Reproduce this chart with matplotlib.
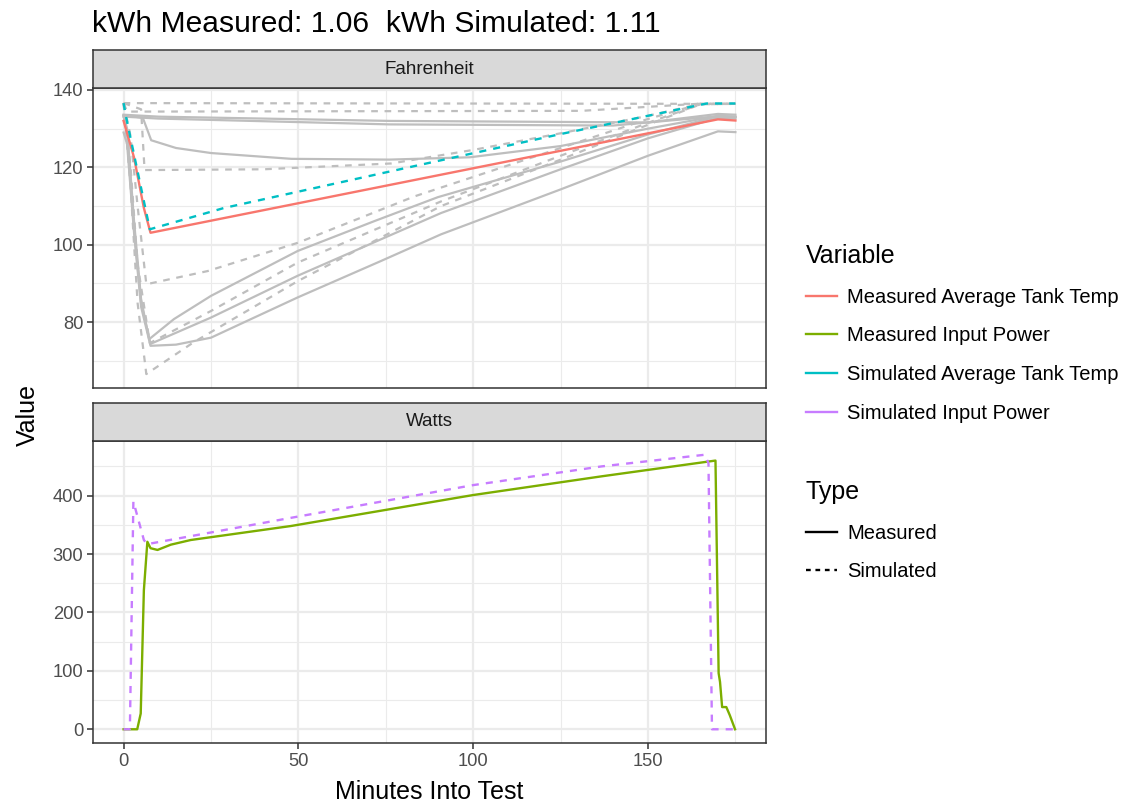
import matplotlib
matplotlib.use('Agg')
import matplotlib.pyplot as plt
from matplotlib.lines import Line2D
from matplotlib.ticker import MultipleLocator

plt.rcParams['font.family'] = ['Liberation Sans', 'DejaVu Sans']

# ── Data ───────────────────────────────────────────────────────────────────
TITLE = 'kWh Measured: 1.06  kWh Simulated: 1.11'
VAR_LABELS = ['Measured Average Tank Temp', 'Measured Input Power',
              'Simulated Average Tank Temp', 'Simulated Input Power']
TYPE_LABELS = ['Measured', 'Simulated']

# Fahrenheit panel: averages
avg_meas_t = [0, 3, 5.8, 7.7, 170, 175]
avg_meas_f = [132, 122.5, 109.5, 103.1, 132.4, 132.1]
avg_sim_t = [0, 0.6, 7.5, 28.7, 76.5, 125, 166.8, 175]
avg_sim_f = [136.6, 133.5, 104, 109.5, 119, 128.6, 136.5, 136.5]

# Fahrenheit panel: individual measured sensors (grey solid)
s1_t = [0, 10, 76, 150, 170, 175]
s1_f = [133.6, 133.1, 132, 131.6, 133.8, 133.6]
s2_t = [0, 10, 76, 140, 170, 175]
s2_f = [133.1, 132.6, 131.1, 130.8, 133.2, 133.0]
s3_t = [0, 5.5, 7.9, 15, 25, 48, 76, 99, 125, 150, 170, 175]
s3_f = [133.5, 132.8, 127, 125, 123.7, 122.2, 122, 122.6, 125.5, 130, 133.3, 133.1]
s4_t = [0, 1, 3, 5, 7.3, 14.4, 25, 49.8, 71.7, 89.9, 125, 150, 170, 175]
s4_f = [133.4, 130, 106, 86, 75.6, 80.8, 86.8, 98.4, 106.1, 112.3, 121.5, 128.5, 133.2, 133.0]
s5_t = [0, 1, 3, 5, 7.7, 25, 49.8, 90.8, 125, 150, 170, 175]
s5_f = [133.2, 129, 104, 85, 74.4, 81.2, 92, 108.2, 119.5, 127.5, 132.8, 132.6]
s6_t = [0, 1, 3, 5, 7.7, 15, 25, 35, 49.8, 73.6, 90.8, 125, 150, 170, 175]
s6_f = [129, 126, 103, 84, 73.9, 74.2, 76, 80.2, 86.4, 95.8, 102.7, 114.3, 123, 129.3, 129.1]

# Fahrenheit panel: individual simulated nodes (grey dashed)
d1_t = [0, 175]
d1_f = [136.6, 136.4]
d2_t = [0, 1, 131, 164, 175]
d2_f = [136.6, 134.4, 134.6, 136.4, 136.4]
d3_t = [0, 5, 6, 40, 76.5, 100, 125, 150, 165, 175]
d3_f = [136.6, 135, 119.3, 119.5, 121, 124.5, 128.8, 133.3, 136.4, 136.4]
d4_t = [0, 2, 4, 6.5, 24, 49.8, 83.2, 125, 150, 165, 175]
d4_f = [136.6, 128, 110, 89.8, 93.2, 100.5, 112.5, 125, 132.5, 136.4, 136.4]
d5_t = [0, 2, 4, 7.5, 25, 49.8, 90.8, 125, 150, 165, 175]
d5_f = [136.6, 120, 95, 74.6, 82.9, 95.4, 111.2, 123, 131.5, 136.3, 136.4]
d6_t = [0, 2, 4, 6.5, 20, 49.8, 90.8, 125, 150, 165, 175]
d6_f = [136.6, 115, 85, 66.6, 74.8, 90.6, 110, 122, 131, 136.3, 136.4]

# Watts panel
pw_meas_t = [0, 3.9, 4.9, 5.8, 6.8, 7.7, 9.7, 13.5, 19.2, 47.9, 100, 136.7,
             169.3, 170.2, 170.6, 171.2, 172.4, 173.4, 174.9]
pw_meas_w = [0, 0, 27, 238, 321, 310, 307, 316, 324, 348, 401, 433,
             460, 96, 81, 38, 38, 24, 0]
pw_sim_t = [0, 1.8, 2.8, 5.8, 6.8, 47.9, 100, 136.7, 166.3, 167.3, 168.3, 174.9]
pw_sim_w = [0, 0, 390, 324, 317, 362, 418, 450, 470, 455, 0, 0]

# ── Style ──────────────────────────────────────────────────────────────────
COLORS = ['#F8766D', '#7CAE00', '#00BFC4', '#C77CFF']
GREY = '#BEBEBE'
BORDER = '#333333'
GRID = '#EBEBEB'
TICK_FS = 13.2
STRIP_FS = 13.5
LEG_FS = 14.5
AXTITLE_FS = 18
DASH = (0, (3, 3))

W, H = 1122, 806
fig = plt.figure(figsize=(W / 100, H / 100), dpi=100)


def fx(px):
    return px / W


def fy(py):
    return 1 - py / H


L, R = 93, 766
ax_top = fig.add_axes([fx(L), fy(388), fx(R - L), (388 - 88) / H])
ax_bot = fig.add_axes([fx(L), fy(743), fx(R - L), (743 - 441) / H])
strip_top = fig.add_axes([fx(L), fy(88), fx(R - L), (88 - 50) / H])
strip_bot = fig.add_axes([fx(L), fy(441), fx(R - L), (441 - 403) / H])

for ax, lab in [(strip_top, 'Fahrenheit'), (strip_bot, 'Watts')]:
    ax.set_facecolor('#D9D9D9')
    ax.set_xticks([])
    ax.set_yticks([])
    for sp in ax.spines.values():
        sp.set_color(BORDER)
        sp.set_linewidth(1.1)
    ax.text(0.5, 0.5, lab, ha='center', va='center', fontsize=STRIP_FS,
            color='#1A1A1A', transform=ax.transAxes)

for ax in (ax_top, ax_bot):
    ax.set_xlim(-8.75, 183.75)
    ax.xaxis.set_major_locator(MultipleLocator(50))
    ax.xaxis.set_minor_locator(MultipleLocator(25))
    ax.grid(which='major', color=GRID, lw=1.6, zorder=0)
    ax.grid(which='minor', color=GRID, lw=0.8, zorder=0)
    ax.set_axisbelow(True)
    for sp in ax.spines.values():
        sp.set_color(BORDER)
        sp.set_linewidth(1.1)
    ax.tick_params(which='major', length=4, width=1.1, color=BORDER,
                   labelsize=TICK_FS, labelcolor='#4D4D4D', pad=3)
    ax.tick_params(which='minor', length=0)

ax_top.set_ylim(63, 140.5)
ax_top.yaxis.set_major_locator(MultipleLocator(20))
ax_top.yaxis.set_minor_locator(MultipleLocator(10))
ax_top.tick_params(axis='x', which='both', bottom=False, labelbottom=False)

ax_bot.set_ylim(-23.5, 493.5)
ax_bot.yaxis.set_major_locator(MultipleLocator(100))
ax_bot.yaxis.set_minor_locator(MultipleLocator(50))

# grey sensor lines
for t, f in [(s1_t, s1_f), (s2_t, s2_f), (s3_t, s3_f),
             (s4_t, s4_f), (s5_t, s5_f), (s6_t, s6_f)]:
    ax_top.plot(t, f, color=GREY, lw=1.6, zorder=2)
for t, f in [(d1_t, d1_f), (d2_t, d2_f), (d3_t, d3_f),
             (d4_t, d4_f), (d5_t, d5_f), (d6_t, d6_f)]:
    ax_top.plot(t, f, color=GREY, lw=1.6, ls=DASH, zorder=2)

ax_top.plot(avg_meas_t, avg_meas_f, color=COLORS[0], lw=1.7, zorder=3)
ax_top.plot(avg_sim_t, avg_sim_f, color=COLORS[2], lw=1.7, ls=DASH, zorder=3)

ax_bot.plot(pw_meas_t, pw_meas_w, color=COLORS[1], lw=1.7, zorder=3)
ax_bot.plot(pw_sim_t, pw_sim_w, color=COLORS[3], lw=1.7, ls=DASH, zorder=3)

# titles
fig.text(fx(92), fy(32), TITLE, fontsize=21.6, ha='left', va='baseline')
fig.text(fx((L + R) / 2), fy(799), 'Minutes Into Test', fontsize=AXTITLE_FS,
         ha='center', va='baseline')
fig.text(fx(28), fy(415.5), 'Value', fontsize=AXTITLE_FS, rotation=90,
         ha='center', va='center')

# legends
leg_kw = dict(loc='upper left', frameon=False, fontsize=LEG_FS,
              title_fontsize=AXTITLE_FS, alignment='left',
              handlelength=1.54, handletextpad=0.5, labelspacing=0.98,
              borderpad=0, borderaxespad=0)
var_handles = [Line2D([], [], color=c, lw=1.7) for c in COLORS]
fig.legend(var_handles, VAR_LABELS, title='Variable',
           bbox_to_anchor=(fx(806), fy(244)), **leg_kw)
type_handles = [Line2D([], [], color='black', lw=1.7),
                Line2D([], [], color='black', lw=1.7, ls=(0, (2, 2)))]
fig.legend(type_handles, TYPE_LABELS, title='Type',
           bbox_to_anchor=(fx(806), fy(480)), **leg_kw)

fig.savefig('out.png', dpi=100)
